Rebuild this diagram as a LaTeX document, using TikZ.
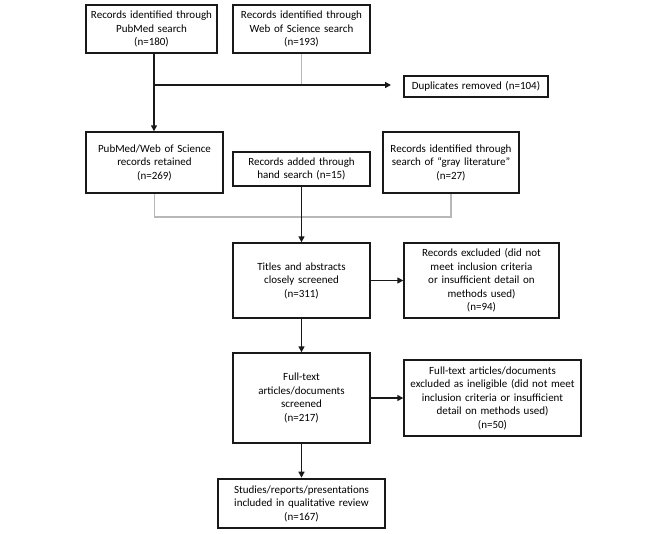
\documentclass[tikz,border=0pt]{standalone}
\usepackage{fontspec}
\setmainfont{Carlito}
\usetikzlibrary{arrows.meta}
\begin{document}
\begin{tikzpicture}[x=1pt,y=-1pt,
  box/.style={draw=black!90, line width=1.4pt, inner sep=0pt, align=center,
    font=\fontsize{11}{13.5}\selectfont, text=black},
  conn/.style={draw=black!90, line width=1.4pt},
  gconn/.style={draw=black!28, line width=1.2pt},
  arr/.style={conn, -{Triangle[length=6pt,width=6pt]}}]
\useasboundingbox (0,0) rectangle (666,533);
\node[box, minimum width=131pt, minimum height=48pt, text width=125pt] (pm) at (151.5,29) {Records identified through\\PubMed search\\(n=180)};
\node[box, minimum width=137pt, minimum height=48pt, text width=131pt] (wos) at (301.5,29) {Records identified through\\Web of Science search\\(n=193)};
\node[box, minimum width=144pt, minimum height=21pt, text width=138pt] (dup) at (476,86.5) {Duplicates removed (n=104)};
\node[box, minimum width=137pt, minimum height=61pt, text width=131pt] (pmw) at (154.5,162.5) {PubMed/Web of Science\\records retained\\(n=269)};
\node[box, minimum width=137pt, minimum height=34pt, text width=131pt] (hand) at (301.5,169) {Records added through\\hand search (n=15)};
\node[box, minimum width=136pt, minimum height=61pt, text width=130pt] (gray) at (451,162.5) {Records identified through\\search of “gray literature”\\(n=27)};
\node[box, minimum width=137pt, minimum height=75pt, text width=131pt] (tit) at (301.5,280.5) {Titles and abstracts\\closely screened\\(n=311)};
\node[box, minimum width=155pt, minimum height=75pt, text width=149pt] (ex1) at (481.5,280.5) {Records excluded (did not\\meet inclusion criteria\\or insufficient detail on\\methods used)\\(n=94)};
\node[box, minimum width=137pt, minimum height=90pt, text width=131pt] (full) at (301.5,398) {Full-text\\articles/documents\\screened\\(n=217)};
\node[box, minimum width=177pt, minimum height=76pt, text width=173pt] (ex2) at (492.5,398) {Full-text articles/documents\\excluded as ineligible (did not meet\\inclusion criteria or insufficient\\detail on methods used)\\(n=50)};
\node[box, line width=2.6pt, minimum width=167pt, minimum height=49pt, text width=161pt] (fin) at (301.5,503.5) {Studies/reports/presentations\\included in qualitative review\\(n=167)};
% top merge
\coordinate (j1) at (154,85);
\coordinate (d1) at (391,85);
\draw[gconn] (wos.south) -- (wos.south |- j1);
\draw[conn] (pm.south -| j1) -- (j1);
\draw[arr] (j1) -- (d1);
\draw[arr] (j1) -- (pmw.north -| j1);
% second merge
\coordinate (j2) at (154,217);
\draw[gconn] (pmw.south) -- (pmw.south |- j2) -- (gray.south |- j2) -- (gray.south);
\draw[arr] (hand.south) -- (tit.north);
\draw[arr] (tit.east) -- (ex1.west);
\draw[arr] (tit.south) -- (full.north);
\draw[arr] (full.east) -- (ex2.west);
\draw[arr] (full.south) -- (fin.north);
\end{tikzpicture}
\end{document}
